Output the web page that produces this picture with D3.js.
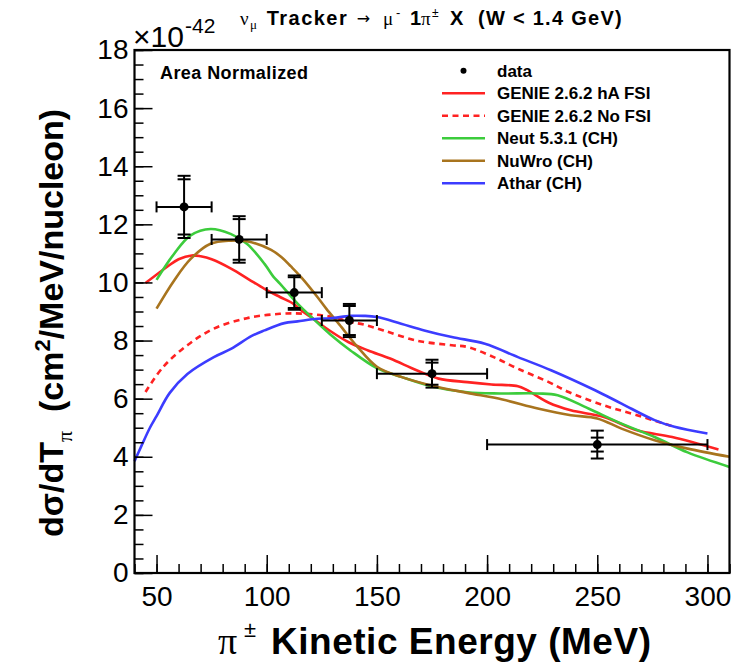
<!DOCTYPE html>
<html><head><meta charset="utf-8">
<script src="https://cdn.jsdelivr.net/npm/d3@7"></script>
<style>
body{margin:0;background:#fff}
text{font-family:"Liberation Sans",Arial,Helvetica,sans-serif;fill:#000}
</style>
</head><body>
<svg id="c" width="736" height="668"></svg>
<script>
// ---- data ----
const binLow  = [50, 75, 100, 125, 150, 200];
const binHigh = [75, 100, 125, 150, 200, 300];
const dataY   = [12.6, 11.48, 9.65, 8.69, 6.86, 4.42];
const statErr = [0.95, 0.70, 0.53, 0.50, 0.38, 0.24];
const totErr  = [1.07, 0.80, 0.59, 0.57, 0.48, 0.48];

const genieHA = [[45,9.98],[55,10.55],[60,10.8],[66,10.93],[70,10.9],[75,10.8],[84,10.47],[92,10.1],[99,9.78],[106,9.5],[112,9.27],[116,9.02],[120,8.81],[129,8.32],[137,7.95],[146,7.66],[156,7.38],[168,6.98],[178,6.69],[191,6.57],[202,6.49],[214,6.43],[218,6.3],[228,5.86],[238,5.6],[253,5.37],[268,4.91],[284,4.68],[305,4.25]];
const genieNoFSI = [[45,6.23],[53,7.09],[64,7.84],[76,8.41],[91,8.77],[106,8.92],[118,8.92],[129,8.82],[138,8.64],[144,8.55],[153,8.35],[168,8.0],[184,7.84],[191,7.78],[203,7.43],[214,7.03],[228,6.57],[237,6.23],[253,5.77],[268,5.43],[285,5.03]];
const neut = [[50,10.09],[58,10.99],[65.5,11.62],[74.5,11.84],[83.6,11.67],[91,11.33],[99,10.64],[103,10.2],[106,9.96],[114,9.27],[121.5,8.72],[129,8.2],[138,7.66],[150,7.05],[161,6.75],[176,6.4],[191,6.22],[206,6.18],[223,6.18],[232,6.12],[246,5.66],[261,5.14],[276,4.68],[291,4.15],[310,3.65]];
const nuwro = [[50,9.1],[58,10.07],[65.5,10.81],[74.5,11.33],[83.6,11.44],[91,11.42],[102,11.12],[107,10.85],[111,10.55],[116,10.15],[123,9.5],[127,9.1],[133,8.55],[141,7.8],[150,7.1],[161,6.75],[176,6.43],[191,6.2],[207,5.97],[223,5.66],[238,5.43],[250,5.32],[261,4.97],[276,4.57],[291,4.28],[310,4.0]];
const athar = [[40,3.85],[43,4.35],[47,5.0],[50,5.4],[56,6.2],[64,6.85],[76,7.43],[84,7.72],[93,8.15],[99,8.35],[108,8.6],[114,8.66],[123,8.75],[129,8.77],[138,8.85],[144,8.85],[150,8.81],[161,8.58],[171.5,8.35],[184,8.12],[199,7.89],[214,7.43],[229,6.98],[249,6.29],[261,5.83],[276,5.26],[285,5.03],[300,4.8]];

const xMajorTicks = [50, 100, 150, 200, 250, 300];
const yMajorTicks = [0, 2, 4, 6, 8, 10, 12, 14, 16, 18];
const legendLabels = ["data","GENIE 2.6.2 hA FSI","GENIE 2.6.2 No FSI","Neut 5.3.1 (CH)","NuWro (CH)","Athar (CH)"];

// ---- layout ----
const svg = d3.select("#c");
const x = d3.scaleLinear().domain([40, 310]).range([134.5, 729.5]);
const y = d3.scaleLinear().domain([0, 18]).range([573, 50]);
const L = x.range()[0], R = x.range()[1], T = y.range()[1], B = y.range()[0];

const series = [
  {data: genieHA, color: "#ff2222", dash: null},
  {data: genieNoFSI, color: "#ff2222", dash: "6,4.5"},
  {data: neut, color: "#3ccc3c", dash: null},
  {data: nuwro, color: "#a8741e", dash: null},
  {data: athar, color: "#3c3cff", dash: null}
];

const plot = svg.append("g");
const line = d3.line().x(d => x(d[0])).y(d => y(d[1])).curve(d3.curveCatmullRom.alpha(0.5));
series.forEach(s => {
  plot.append("path").attr("d", line(s.data)).attr("fill", "none")
    .attr("stroke", s.color).attr("stroke-width", 2.6)
    .attr("stroke-dasharray", s.dash);
});

// data points
const eb = plot.append("g").attr("stroke", "#000").attr("stroke-width", 2);
dataY.forEach((v, i) => {
  const cx = x((binLow[i] + binHigh[i]) / 2), cy = y(v);
  eb.append("line").attr("x1", x(binLow[i])).attr("x2", x(binHigh[i])).attr("y1", cy).attr("y2", cy);
  [binLow[i], binHigh[i]].forEach(b => eb.append("line").attr("x1", x(b)).attr("x2", x(b)).attr("y1", cy - 5.5).attr("y2", cy + 5.5));
  eb.append("line").attr("x1", cx).attr("x2", cx).attr("y1", y(v + totErr[i])).attr("y2", y(v - totErr[i]));
  [v + totErr[i], v - totErr[i], v + statErr[i], v - statErr[i]].forEach(e =>
    eb.append("line").attr("x1", cx - 6.5).attr("x2", cx + 6.5).attr("y1", y(e)).attr("y2", y(e)));
  plot.append("circle").attr("cx", cx).attr("cy", cy).attr("r", 4.5).attr("fill", "#000");
});

// axes
const xMinor = d3.range(40, 311, 10);
const yMinor = d3.range(0, 18.01, 0.5);
const gx = svg.append("g").attr("transform", `translate(0,${B})`);
gx.call(d3.axisBottom(x).tickValues(xMinor).tickSize(-9).tickFormat(""));
const gx2 = svg.append("g").attr("transform", `translate(0,${B})`);
gx2.call(d3.axisBottom(x).tickValues(xMajorTicks).tickSize(-18).tickPadding(13).tickFormat(d3.format("d")));
const gy = svg.append("g").attr("transform", `translate(${L},0)`);
gy.call(d3.axisLeft(y).tickValues(yMinor).tickSize(-9).tickFormat(""));
const gy2 = svg.append("g").attr("transform", `translate(${L},0)`);
gy2.call(d3.axisLeft(y).tickValues(yMajorTicks).tickSize(-18).tickPadding(6).tickFormat(d3.format("d")));
[gx, gx2, gy, gy2].forEach(g => {
  g.select(".domain").remove();
  g.selectAll(".tick line").attr("stroke", "#000").attr("stroke-width", 1.5);
  g.selectAll("text").style("font-size", "28px").attr("fill", "#000");
});

svg.append("rect").attr("x", L).attr("y", T).attr("width", R - L).attr("height", B - T)
  .attr("fill", "none").attr("stroke", "#000").attr("stroke-width", 2.2);

// exponent
svg.append("text").attr("x", 133).attr("y", 46.7).style("font-size", "30px").text("×10");
svg.append("text").attr("x", 185).attr("y", 33).style("font-size", "21px").text("-42");

// title
const tt = svg.append("g");
const serif = '"Liberation Serif","DejaVu Serif",serif';
tt.append("text").attr("x", 240).attr("y", 25).style("font-family", serif).style("font-size", "19px").text("ν");
tt.append("text").attr("x", 250).attr("y", 29).style("font-family", serif).style("font-size", "13px").text("μ");
tt.append("text").attr("x", 266.7).attr("y", 25).style("font-size", "20px").style("font-weight", "bold").attr("textLength", 80).text("Tracker");
tt.append("text").attr("x", 356.7).attr("y", 24).style("font-family", '"DejaVu Sans",sans-serif').style("font-size", "16px").attr("textLength", 20).text("→");
tt.append("text").attr("x", 383).attr("y", 25).style("font-family", serif).style("font-size", "19px").text("μ");
tt.append("text").attr("x", 396).attr("y", 17).style("font-size", "13px").text("-");
tt.append("text").attr("x", 410).attr("y", 25).style("font-size", "20px").style("font-weight", "bold").text("1");
tt.append("text").attr("x", 421).attr("y", 25).style("font-family", serif).style("font-size", "19px").text("π");
tt.append("text").attr("x", 432).attr("y", 17).style("font-size", "12px").text("±");
tt.append("text").attr("x", 450).attr("y", 25).style("font-size", "20px").style("font-weight", "bold").text("X");
tt.append("text").attr("x", 478).attr("y", 25).style("font-size", "20px").style("font-weight", "bold").attr("textLength", 143.7).text("(W < 1.4 GeV)");

// area normalized
svg.append("text").attr("x", 160).attr("y", 78.5).style("font-size", "18px").style("font-weight", "bold").attr("textLength", 148).text("Area Normalized");

// legend
const lg = svg.append("g");
legendLabels.forEach((lab, i) => {
  const ly = 70.7 + i * 22.5;
  if (i === 0) {
    lg.append("circle").attr("cx", 463.5).attr("cy", ly).attr("r", 3).attr("fill", "#000");
  } else {
    const s = series[i - 1];
    lg.append("line").attr("x1", 442).attr("x2", 485).attr("y1", ly).attr("y2", ly)
      .attr("stroke", s.color).attr("stroke-width", 2.6).attr("stroke-dasharray", s.dash);
  }
  lg.append("text").attr("x", 497).attr("y", ly).attr("dy", "0.36em")
    .style("font-size", "17px").style("font-weight", "bold").text(lab);
});

// axis titles
svg.append("text").attr("x", 218).attr("y", 654).style("font-family", serif).style("font-size", "38px").text("π");
svg.append("text").attr("x", 244).attr("y", 637).style("font-size", "22px").text("±");
svg.append("text").attr("x", 271).attr("y", 654).style("font-size", "37px").style("font-weight", "bold")
  .attr("textLength", 380).text("Kinetic Energy (MeV)");

const yt = svg.append("text").attr("transform", "translate(63,323) rotate(-90)")
  .attr("text-anchor", "middle").style("font-size", "34px").style("font-weight", "bold").style("white-space", "pre");
yt.append("tspan").text("dσ/dT");
yt.append("tspan").attr("dy", 9).style("font-size", "22px").style("font-family", serif).style("font-weight", "normal").text("π");
yt.append("tspan").attr("dy", -9).text("  (cm");
yt.append("tspan").attr("dy", -13).style("font-size", "22px").text("2");
yt.append("tspan").attr("dy", 13).text("/MeV/nucleon)");
</script>
</body></html>
